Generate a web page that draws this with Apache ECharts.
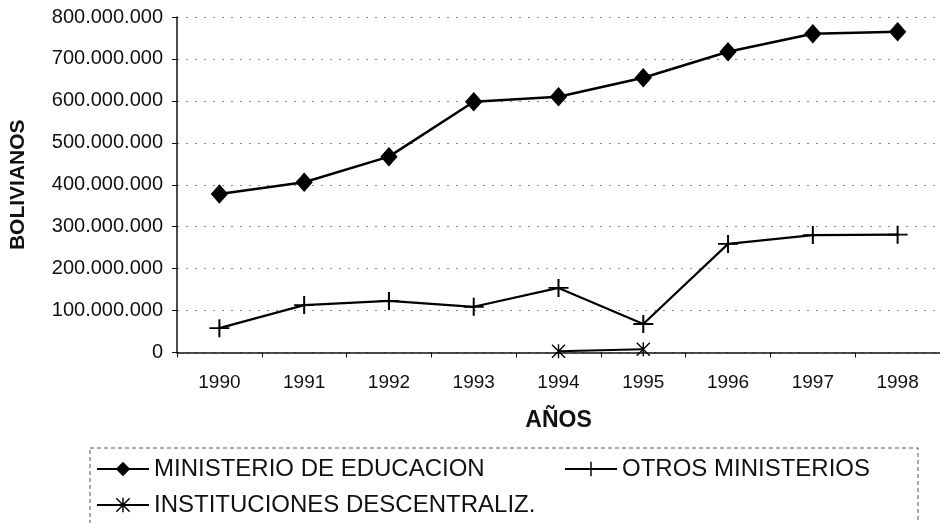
<!DOCTYPE html>
<html>
<head>
<meta charset="utf-8">
<script src="https://cdn.jsdelivr.net/npm/echarts@6/dist/echarts.min.js"></script>
<style>
html,body{margin:0;padding:0;background:#fff;}
#chart{width:940px;height:523px;}
</style>
</head>
<body>
<div id="chart"></div>
<script>
const years = ['1990','1991','1992','1993','1994','1995','1996','1997','1998'];
const educacion = [378000000, 406000000, 467000000, 598000000, 610000000, 655000000, 717000000, 760000000, 765000000];
const otros = [58000000, 113000000, 123000000, 109000000, 154000000, 68000000, 259000000, 280000000, 281000000];
const instituciones = [null, null, null, null, 3000000, 8000000, null, null, null];
const seriesNames = ['MINISTERIO DE EDUCACION', 'OTROS MINISTERIOS', 'INSTITUCIONES DESCENTRALIZ.'];
const yTitle = 'BOLIVIANOS';
const xTitle = 'AÑOS';

const FONT = 'Liberation Sans, Arial, sans-serif';
const plusPath = 'path://M0,9h20v2h-20z M9,0h2v20h-2z';
const starPath = 'path://M0,1.4L1.4,0L20,18.6L18.6,20Z M18.6,0L20,1.4L1.4,20L0,18.6Z M9,0h2v20h-2z';

function fmt(v){ return String(v).replace(/\B(?=(\d{3})+(?!\d))/g, '.'); }

const chart = echarts.init(document.getElementById('chart'), null, {renderer:'canvas'});
const legendCommon = {
  orient: 'horizontal', padding: 0, itemWidth: 52, itemHeight: 18, itemGap: 5,
  textStyle: {fontFamily: FONT, fontSize: 24, color: '#111'},
  inactiveColor: '#111', selectedMode: false
};
chart.setOption({
  animation: false,
  backgroundColor: '#fff',
  grid: {left: 177, top: 17, width: 772, height: 335.5, containLabel: false},
  xAxis: {
    type: 'category', data: years, boundaryGap: true,
    name: xTitle, nameLocation: 'middle', nameGap: 57,
    nameTextStyle: {fontFamily: FONT, fontSize: 23, fontWeight: 'bold', color: '#111'},
    axisLine: {lineStyle: {color: '#111', width: 1.5}},
    axisTick: {show: true, length: 5, inside: false, lineStyle: {color: '#111'}},
    axisLabel: {fontFamily: FONT, fontSize: 19, color: '#111', margin: 21},
    splitLine: {show: false}
  },
  yAxis: {
    type: 'value', min: 0, max: 800000000, interval: 100000000,
    name: yTitle, nameLocation: 'middle', nameGap: 148, nameRotate: 90,
    nameTextStyle: {fontFamily: FONT, fontSize: 21, fontWeight: 'bold', color: '#111'},
    axisLine: {show: true, lineStyle: {color: '#111', width: 1.5}},
    axisTick: {show: true, length: 5, lineStyle: {color: '#111'}},
    axisLabel: {fontFamily: FONT, fontSize: 20, color: '#111', margin: 14, formatter: fmt},
    splitLine: {show: true, lineStyle: {color: '#888', width: 1, type: [2, 7]}}
  },
  legend: [
    Object.assign({}, legendCommon, {data: [seriesNames[0]], left: 96, top: 457}),
    Object.assign({}, legendCommon, {data: [seriesNames[1]], left: 564, top: 457}),
    Object.assign({}, legendCommon, {data: [seriesNames[2]], left: 96, top: 493})
  ],
  graphic: [{
    type: 'rect', silent: true, z: 0,
    shape: {x: 90, y: 448, width: 828, height: 120},
    style: {fill: 'none', stroke: '#555', lineWidth: 1, lineDash: [4, 3]}
  }],
  series: [
    {
      name: seriesNames[0], type: 'line', data: educacion,
      symbol: 'diamond', symbolSize: [16, 18], showAllSymbol: true,
      lineStyle: {color: '#000', width: 2.5},
      itemStyle: {color: '#000', borderColor: '#000'}
    },
    {
      name: seriesNames[1], type: 'line', data: otros,
      symbol: plusPath, symbolSize: [20, 18], showAllSymbol: true,
      lineStyle: {color: '#000', width: 2.2},
      itemStyle: {color: '#000', borderWidth: 0}
    },
    {
      name: seriesNames[2], type: 'line', data: instituciones,
      symbol: starPath, symbolSize: [14, 14], showAllSymbol: true, connectNulls: false,
      lineStyle: {color: '#000', width: 2},
      itemStyle: {color: '#000', borderWidth: 0}
    }
  ]
});
</script>
</body>
</html>
